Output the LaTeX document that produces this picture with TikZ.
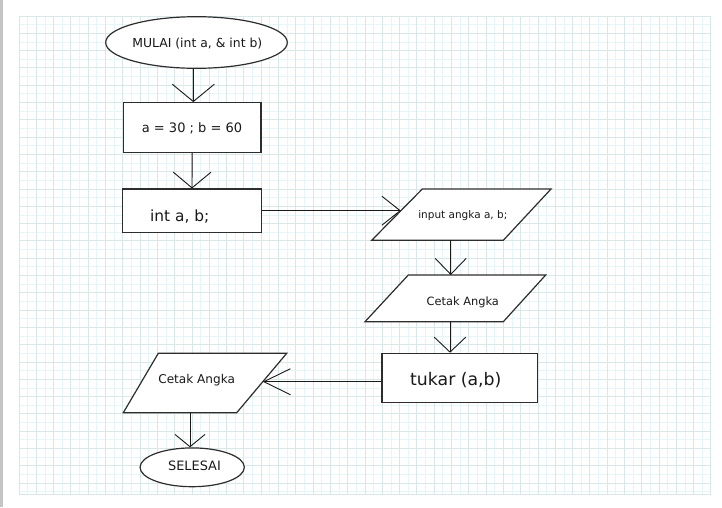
\documentclass[tikz,border=0pt]{standalone}
\usepackage{fontspec}
\setmainfont{DejaVu Sans}
\usetikzlibrary{shapes.geometric,arrows.meta}
\definecolor{gmajor}{RGB}{218,231,233}
\definecolor{gminor}{RGB}{229,245,248}
\definecolor{sidebar}{RGB}{196,196,196}
\definecolor{ink}{RGB}{45,45,45}
\tikzset{
  shapebox/.style={draw=ink, line width=1.2pt, fill=white, inner sep=0pt},
  termbox/.style={shapebox, ellipse},
  rectbox/.style={shapebox, rectangle},
  para/.style={draw=ink, line width=1.2pt, fill=white},
  txt/.style={anchor=base, inner sep=0pt, text=black!90},
  conn/.style={draw=black!90, line width=0.9pt},
  majorline/.style={draw=gmajor, line width=0.9pt},
  minorline/.style={draw=gminor, line width=0.8pt},
}
\begin{document}
\begin{tikzpicture}[x=1pt,y=-1pt]
\useasboundingbox (0,0) rectangle (722,507);
\fill[white] (0,0) rectangle (722,507);
\fill[sidebar] (0,0) rectangle (2.7,507);
% grid
\foreach \i in {0,...,39} {
  \pgfmathsetmacro\xx{27.65+\i*17.3}
  \draw[minorline] (\xx,16) -- (\xx,494.3);
}
\foreach \j in {0,...,27} {
  \pgfmathsetmacro\yy{24.65+\j*17.3}
  \draw[minorline] (19,\yy) -- (710.7,\yy);
}
\foreach \i in {0,...,39} {
  \pgfmathsetmacro\xx{19+\i*17.3}
  \draw[majorline] (\xx,16) -- (\xx,494.3);
}
\foreach \j in {0,...,27} {
  \pgfmathsetmacro\yy{16+\j*17.3}
  \draw[majorline] (19,\yy) -- (710.7,\yy);
}
\draw[majorline] (19,16) rectangle (710.7,494.3);

% terminals and boxes
\node[termbox, minimum width=181.6pt, minimum height=51.6pt] (start) at (196.5,42.5) {};
\node[txt, font=\fontsize{12.4}{14}\selectfont] (startT) at (197.3,47) {MULAI (int a, \& int b)};

\node[rectbox, minimum width=137.7pt, minimum height=49.6pt] (box1) at (192.15,127.5) {};
\node[txt, font=\fontsize{13}{15}\selectfont] (box1T) at (192,132.7) {a = 30 ; b = 60};

\node[rectbox, minimum width=138.6pt, minimum height=43.3pt] (intb) at (192,210.7) {};
\node[txt, font=\fontsize{15.4}{17}\selectfont] (intbT) at (179.7,221) {int a, b;};

% input parallelogram
\draw[para] (422.3,189) -- (551,189) -- (503.3,240.3) -- (371.7,240.3) -- cycle;
\coordinate (inW) at (400.9,210.7);
\coordinate (inS) at (450.7,240.3);
\node[txt, font=\fontsize{10.5}{12}\selectfont] (inT) at (462.8,218.3) {input angka a, b;};

% right cetak parallelogram
\draw[para] (408.3,275) -- (545.7,275) -- (503.3,321.7) -- (365,321.7) -- cycle;
\coordinate (cRN) at (450.7,275);
\coordinate (cRS) at (450,321.7);
\node[txt, font=\fontsize{11.4}{13}\selectfont] (cRT) at (462.8,305.7) {Cetak Angka};

\node[rectbox, minimum width=155.3pt, minimum height=49.4pt] (tukar) at (459.65,378) {};
\node[txt, font=\fontsize{17.3}{19}\selectfont] (tukarT) at (455.8,385) {tukar (a,b)};

% left cetak parallelogram
\draw[para] (158.3,353.3) -- (286.7,353.3) -- (236.7,412.7) -- (123.3,412.7) -- cycle;
\coordinate (cLE) at (262.8,381.7);
\coordinate (cLS) at (190,412.7);
\node[txt, font=\fontsize{12.1}{14}\selectfont] (cLT) at (196.7,383.3) {Cetak Angka};

\node[termbox, minimum width=104.3pt, minimum height=38.8pt] (selesai) at (192.2,467.3) {};
\node[txt, font=\fontsize{12.9}{15}\selectfont] (selesaiT) at (194.5,470) {SELESAI};

% connectors
\draw[conn, -{Straight Barb[length=17.3pt,width=42pt]}] ([xshift=-3.2pt]start.south) -- ([xshift=1.15pt]box1.north);
\draw[conn, -{Straight Barb[length=15.7pt,width=37.7pt]}] (box1.south) -- (intb.north);
\draw[conn, -{Straight Barb[length=18.3pt,width=29pt]}] (intb.east) -- (inW);
\draw[conn, -{Straight Barb[length=16pt,width=31pt]}] (inS) -- (cRN);
\draw[conn, -{Straight Barb[length=15pt,width=31.7pt]}] (cRS) -- (cRS |- tukar.north);
\draw[conn, -{Straight Barb[length=26.6pt,width=26pt]}] ([yshift=-3.7pt]tukar.west) -- (cLE);
\draw[conn, -{Straight Barb[length=12.3pt,width=30pt]}] (cLS) -- (cLS |- selesai.north);
\end{tikzpicture}
\end{document}
